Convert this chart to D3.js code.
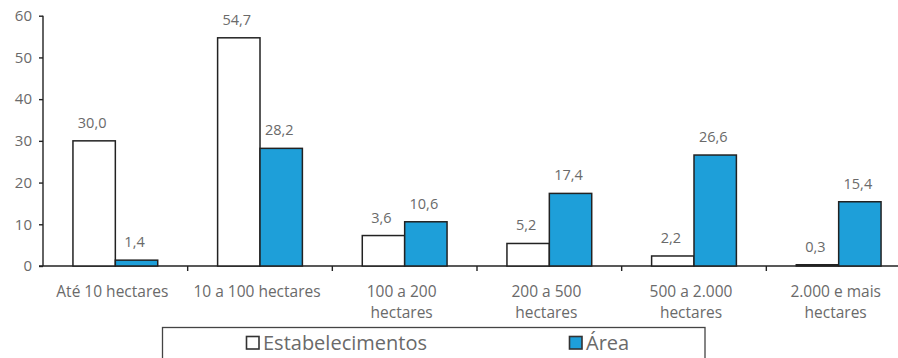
<!DOCTYPE html>
<html><head><meta charset="utf-8">
<script src="https://cdn.jsdelivr.net/npm/d3@7"></script>
<style>
html,body{margin:0;padding:0;background:#fff;overflow:hidden}
svg{display:block;font-family:"Open Sans",sans-serif}
</style></head>
<body>
<svg id="chart" width="898" height="358"></svg>
<script>
const categories = ["Até 10 hectares", "10 a 100 hectares", "100 a 200|hectares", "200 a 500|hectares", "500 a 2.000|hectares", "2.000 e mais|hectares"];
const seriesNames = ["Estabelecimentos", "Área"];
// Value labels as printed in the chart
const estabelecimentos = [30.0, 54.7, 3.6, 5.2, 2.2, 0.3];
const area = [1.4, 28.2, 10.6, 17.4, 26.6, 15.4];
// Heights at which the bars are actually drawn in the picture
const estabelecimentosBarHeights = [30.0, 54.7, 7.3, 5.4, 2.4, 0.3];
const areaBarHeights = [1.4, 28.2, 10.6, 17.4, 26.6, 15.4];
const yTicks = [0, 10, 20, 30, 40, 50, 60];

const colors = {"Estabelecimentos": "#ffffff", "Área": "#1e9fd9"};
const textColor = "#6a6a6a";
const fmt = v => d3.format(".1f")(v).replace(".", ",");

const svg = d3.select("#chart");
const x = d3.scaleBand().domain(categories).range([43, 911]).padding(0);
const y = d3.scaleLinear().domain([0, 60]).range([266, 15.7]);
const barW = x.bandwidth() * 0.293;
const inner = d3.scaleBand().domain(seriesNames).range([-barW, barW]).padding(0);

// Y axis
const yAxis = svg.append("g").attr("transform", "translate(43,0)")
  .call(d3.axisLeft(y).tickValues(yTicks).tickSize(4).tickPadding(7).tickFormat(d3.format("d")));
yAxis.select(".domain").attr("stroke", "#222").attr("stroke-width", 1.4).attr("d", `M0,${y(0)}V${y(60)}`);
yAxis.selectAll(".tick line").attr("stroke", "#222").attr("stroke-width", 1.4);
yAxis.selectAll(".tick text").attr("fill", textColor).style("font-size", "15px").style("font-family", "'Open Sans',sans-serif");

// X axis
const xAxis = svg.append("g").attr("transform", `translate(0,${y(0)})`);
xAxis.append("line").attr("x1", 39).attr("x2", 911).attr("y1", 0).attr("y2", 0)
  .attr("stroke", "#222").attr("stroke-width", 1.4);
xAxis.selectAll("line.tk").data(categories.slice(1)).join("line").attr("class", "tk")
  .attr("x1", d => x(d)).attr("x2", d => x(d)).attr("y1", 0).attr("y2", 5)
  .attr("stroke", "#222").attr("stroke-width", 1.4);

// category labels
const lab = svg.append("g").selectAll("text").data(categories).join("text")
  .attr("x", d => x(d) + x.bandwidth() / 2 - 3)
  .attr("y", 297)
  .attr("text-anchor", "middle")
  .attr("fill", textColor)
  .style("font-size", "15.5px");
lab.each(function(d) {
  const parts = d.split("|");
  const t = d3.select(this);
  parts.forEach((p, i) => {
    t.append("tspan").attr("x", x(d) + x.bandwidth() / 2 - 3).attr("dy", i === 0 ? 0 : 21).text(p);
  });
});

// bars
const rows = categories.map((c, i) => ({
  cat: c,
  items: [
    {s: "Estabelecimentos", h: estabelecimentosBarHeights[i], v: estabelecimentos[i]},
    {s: "Área", h: areaBarHeights[i], v: area[i]}
  ]
}));
const groups = svg.append("g").selectAll("g").data(rows).join("g")
  .attr("transform", d => `translate(${x(d.cat) + x.bandwidth() / 2},0)`);
groups.selectAll("rect").data(d => d.items).join("rect")
  .attr("x", d => inner(d.s))
  .attr("y", d => y(d.h))
  .attr("width", inner.bandwidth())
  .attr("height", d => y(0) - y(d.h))
  .attr("fill", d => colors[d.s])
  .attr("stroke", "#222")
  .attr("stroke-width", 1.5);
groups.selectAll("text").data(d => d.items).join("text")
  .attr("x", d => inner(d.s) + inner.bandwidth() / 2 - 2)
  .attr("y", d => y(d.h) - 13)
  .attr("text-anchor", "middle")
  .attr("fill", textColor)
  .style("font-size", "14.5px")
  .text(d => fmt(d.v));

// legend
const leg = svg.append("g");
leg.append("rect").attr("x", 162.5).attr("y", 327.5).attr("width", 542.5).attr("height", 50)
  .attr("fill", "#fff").attr("stroke", "#444").attr("stroke-width", 1.3);
const legItems = [
  {s: "Estabelecimentos", x: 246},
  {s: "Área", x: 569}
];
legItems.forEach(it => {
  leg.append("rect").attr("x", it.x + 0.5).attr("y", 336.5).attr("width", 12.5).attr("height", 12.5)
    .attr("fill", colors[it.s]).attr("stroke", "#333").attr("stroke-width", 1.6);
  leg.append("text").attr("x", it.x + 17).attr("y", 350).attr("fill", textColor)
    .style("font-size", "20px").text(it.s);
});
</script>
</body></html>
